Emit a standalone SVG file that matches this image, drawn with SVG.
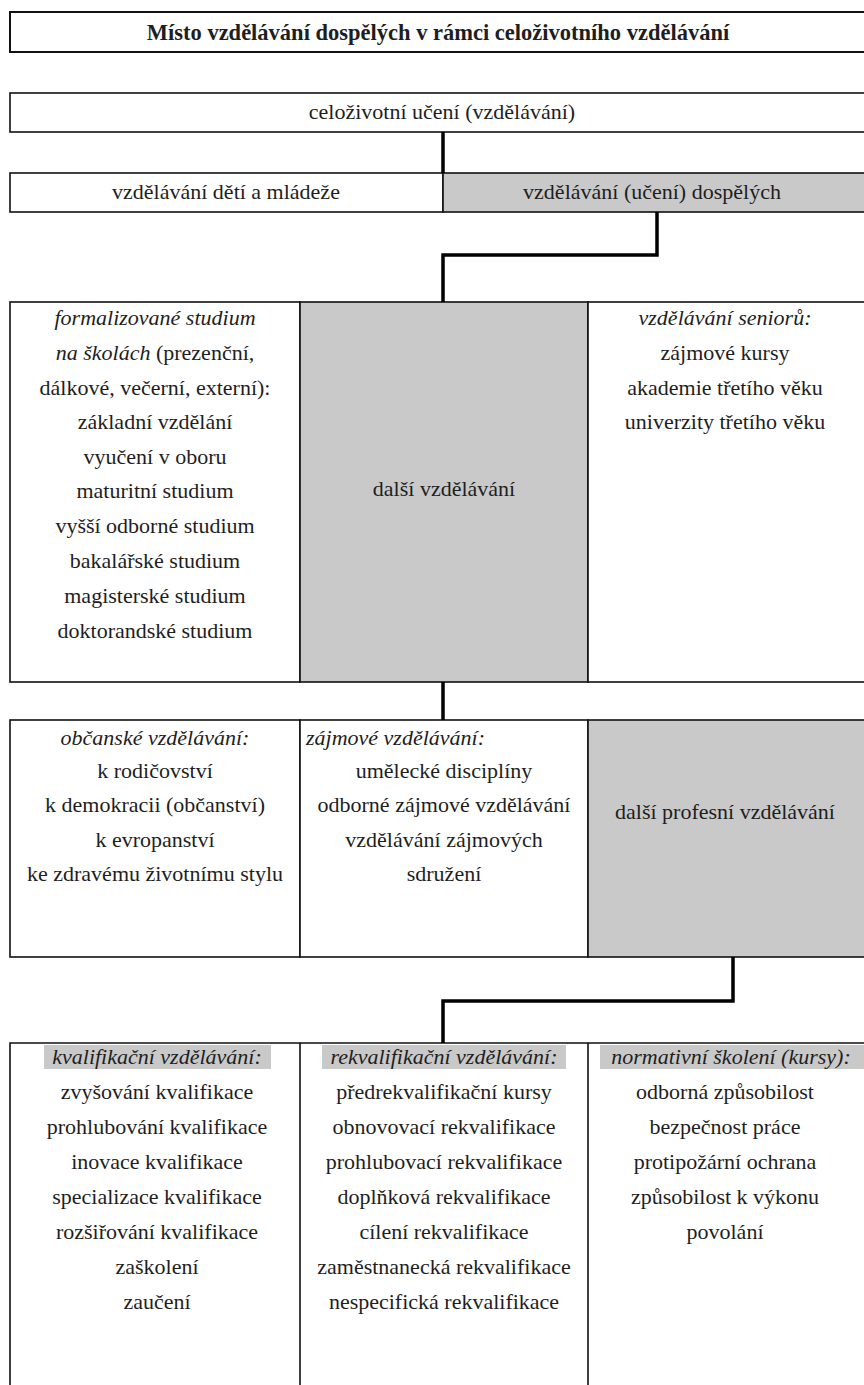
<svg xmlns="http://www.w3.org/2000/svg" width="864" height="1385" viewBox="0 0 864 1385">
<style>
.b{fill:#fff;stroke:#111;stroke-width:1.6}
.g{fill:#c9c9c9;stroke:#111;stroke-width:1.6}
.hl{fill:#c9c9c9;stroke:none}
.ln{fill:none;stroke:#111;stroke-width:1.6}
.c{fill:none;stroke:#000;stroke-width:3.5}
text{font-family:"Liberation Serif","Tinos","Times New Roman","DejaVu Serif",serif;font-size:22px;fill:#1e1e1e}
.m{text-anchor:middle}
.i{font-style:italic}
.t{font-weight:bold;font-size:22.5px}
</style>
<rect width="864" height="1385" fill="#fff"/>
<g id="title">
<rect x="10" y="12" width="870" height="40" fill="#fff" stroke="#111" stroke-width="2"/>
<text class="m t" x="438" y="40">Místo vzdělávání dospělých v rámci celoživotního vzdělávání</text>
</g>
<g id="celozivotni">
<rect class="b" x="10" y="93" width="870" height="39"/>
<text class="m" x="442" y="119">celoživotní učení (vzdělávání)</text>
</g>
<g id="deti">
<rect class="b" x="10" y="173" width="433" height="39"/>
<text class="m" x="226" y="199">vzdělávání dětí a mládeže</text>
</g>
<g id="dospeli">
<rect class="g" x="443" y="173" width="437" height="39"/>
<text class="m" x="652" y="199">vzdělávání (učení) dospělých</text>
</g>
<g id="formalizovane">
<rect class="b" x="10" y="302" width="290" height="380"/>
<text class="m" x="155" y="325"><tspan class="i">formalizované studium</tspan></text>
<text class="m" x="155" y="360"><tspan class="i">na školách</tspan> (prezenční,</text>
<text class="m" x="155" y="395">dálkové, večerní, externí):</text>
<text class="m" x="155" y="429">základní vzdělání</text>
<text class="m" x="155" y="464">vyučení v oboru</text>
<text class="m" x="155" y="498">maturitní studium</text>
<text class="m" x="155" y="533">vyšší odborné studium</text>
<text class="m" x="155" y="568">bakalářské studium</text>
<text class="m" x="155" y="603">magisterské studium</text>
<text class="m" x="155" y="638">doktorandské studium</text>
</g>
<g id="dalsi">
<rect class="g" x="300" y="302" width="288" height="380"/>
<text class="m" x="444" y="496">další vzdělávání</text>
</g>
<g id="seniori">
<rect class="b" x="588" y="302" width="292" height="380"/>
<text class="m i" x="725" y="325">vzdělávání seniorů:</text>
<text class="m" x="725" y="360">zájmové kursy</text>
<text class="m" x="725" y="395">akademie třetího věku</text>
<text class="m" x="725" y="429">univerzity třetího věku</text>
</g>
<g id="obcanske">
<rect class="b" x="10" y="720" width="290" height="237"/>
<text class="m i" x="155" y="745">občanské vzdělávání:</text>
<text class="m" x="155" y="778">k rodičovství</text>
<text class="m" x="155" y="812">k demokracii (občanství)</text>
<text class="m" x="155" y="847">k evropanství</text>
<text class="m" x="155" y="881">ke zdravému životnímu stylu</text>
</g>
<g id="zajmove">
<rect class="b" x="300" y="720" width="288" height="237"/>
<text class="i" x="306" y="745">zájmové vzdělávání:</text>
<text class="m" x="444" y="778">umělecké disciplíny</text>
<text class="m" x="444" y="812">odborné zájmové vzdělávání</text>
<text class="m" x="444" y="847">vzdělávání zájmových</text>
<text class="m" x="444" y="881">sdružení</text>
</g>
<g id="profesni">
<rect class="g" x="588" y="720" width="292" height="237"/>
<text class="m" x="725" y="819">další profesní vzdělávání</text>
</g>
<g id="kvalifikacni">
<path class="ln" d="M10 1390V1043H300V1390"/>
<rect class="hl" x="44" y="1045" width="227" height="24"/>
<text class="m i" x="157" y="1064">kvalifikační vzdělávání:</text>
<text class="m" x="157" y="1099">zvyšování kvalifikace</text>
<text class="m" x="157" y="1134">prohlubování kvalifikace</text>
<text class="m" x="157" y="1169">inovace kvalifikace</text>
<text class="m" x="157" y="1204">specializace kvalifikace</text>
<text class="m" x="157" y="1239">rozšiřování kvalifikace</text>
<text class="m" x="157" y="1274">zaškolení</text>
<text class="m" x="157" y="1309">zaučení</text>
</g>
<g id="rekvalifikacni">
<path class="ln" d="M300 1043H588V1390"/>
<rect class="hl" x="322" y="1045" width="244" height="24"/>
<text class="m i" x="444" y="1064">rekvalifikační vzdělávání:</text>
<text class="m" x="444" y="1099">předrekvalifikační kursy</text>
<text class="m" x="444" y="1134">obnovovací rekvalifikace</text>
<text class="m" x="444" y="1169">prohlubovací rekvalifikace</text>
<text class="m" x="444" y="1204">doplňková rekvalifikace</text>
<text class="m" x="444" y="1239">cílení rekvalifikace</text>
<text class="m" x="444" y="1274">zaměstnanecká rekvalifikace</text>
<text class="m" x="444" y="1309">nespecifická rekvalifikace</text>
</g>
<g id="normativni">
<path class="ln" d="M588 1043H880"/>
<rect class="hl" x="600" y="1045" width="264" height="24"/>
<text class="m i" x="731" y="1064">normativní školení (kursy):</text>
<text class="m" x="725" y="1099">odborná způsobilost</text>
<text class="m" x="725" y="1134">bezpečnost práce</text>
<text class="m" x="725" y="1169">protipožární ochrana</text>
<text class="m" x="725" y="1204">způsobilost k výkonu</text>
<text class="m" x="725" y="1239">povolání</text>
</g>
<g id="connectors">
<path class="c" d="M443 132V173"/>
<path class="c" d="M657 212V255H443V302"/>
<path class="c" d="M443 682V720"/>
<path class="c" d="M733 957V1001H443V1043"/>
</g>
</svg>
